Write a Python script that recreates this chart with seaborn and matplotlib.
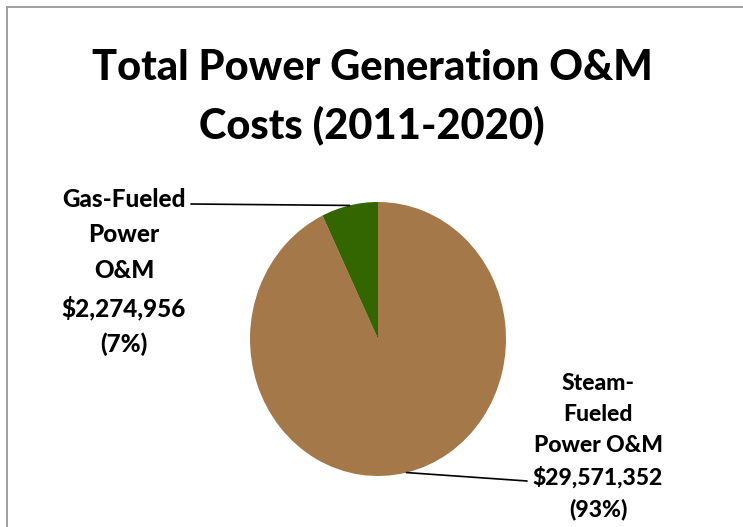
import numpy as np
import seaborn as sns
from matplotlib import pyplot as plt
from matplotlib.lines import Line2D

# values
categories = ["Steam-\nFueled\nPower O&M", "Gas-Fueled\nPower\nO&M"]
costs = [29571352, 2274956]
slice_colors = ["#A5784A", "#336600"]
title_text = "Total Power Generation O&M\nCosts (2011-2020)"

sns.set_theme(style="white")
plt.rcParams['font.family'] = ['Lato', 'DejaVu Sans']
plt.rcParams['text.color'] = 'black'

fig = plt.figure(figsize=(7.43, 5.27), dpi=100)
ax = fig.add_axes([0, 0, 1, 1])

# pie centre (378, 339) px, radii 128 x 137 px
cx, cy, rx, ry = 378, 339, 128, 137
def px(x, y):
    return (x - cx) / rx, (cy - y) / ry

wedges, _ = ax.pie(costs, colors=slice_colors, startangle=90, counterclock=False,
                   wedgeprops=dict(linewidth=0))
ax.set_xlim((0 - cx) / rx, (743 - cx) / rx)
ax.set_ylim((cy - 527) / ry, cy / ry)
ax.set_aspect('auto')
ax.axis('off')

total = sum(costs)
labels = []
for name, v in zip(categories, costs):
    labels.append(f"{name}\n${v:,.0f}\n({v / total:.0%})")

# slice midpoints on the edge
mids = []
for w in wedges:
    a = np.deg2rad((w.theta1 + w.theta2) / 2)
    mids.append((np.cos(a), np.sin(a)))

# steam label
ax.text(*px(598, 447), labels[0], ha='center', va='center', fontsize=16.5,
        fontweight=900, linespacing=1.57, color='black')
ax.plot([mids[0][0], px(527, 481)[0]], [mids[0][1], px(527, 481)[1]],
        color='black', lw=1.2)

# gas label
ax.text(*px(124, 272), labels[1], ha='center', va='center', fontsize=17.5,
        fontweight=900, linespacing=1.66, color='black')
ax.plot([mids[1][0], px(191, 204)[0]], [mids[1][1], px(191, 204)[1]],
        color='black', lw=1.2)

fig.text(372 / 743, 1 - 97 / 527, title_text, ha='center', va='center',
         fontsize=30, fontweight=900, linespacing=1.55, color='black')

# chart area border (only top and left edges visible)
fig.add_artist(Line2D([7 / 743, 7 / 743], [0, 1 - 7 / 527], color='#999999', lw=1.3))
fig.add_artist(Line2D([7 / 743, 1], [1 - 7 / 527, 1 - 7 / 527], color='#999999', lw=1.3))

fig.savefig("out.png", dpi=100)
